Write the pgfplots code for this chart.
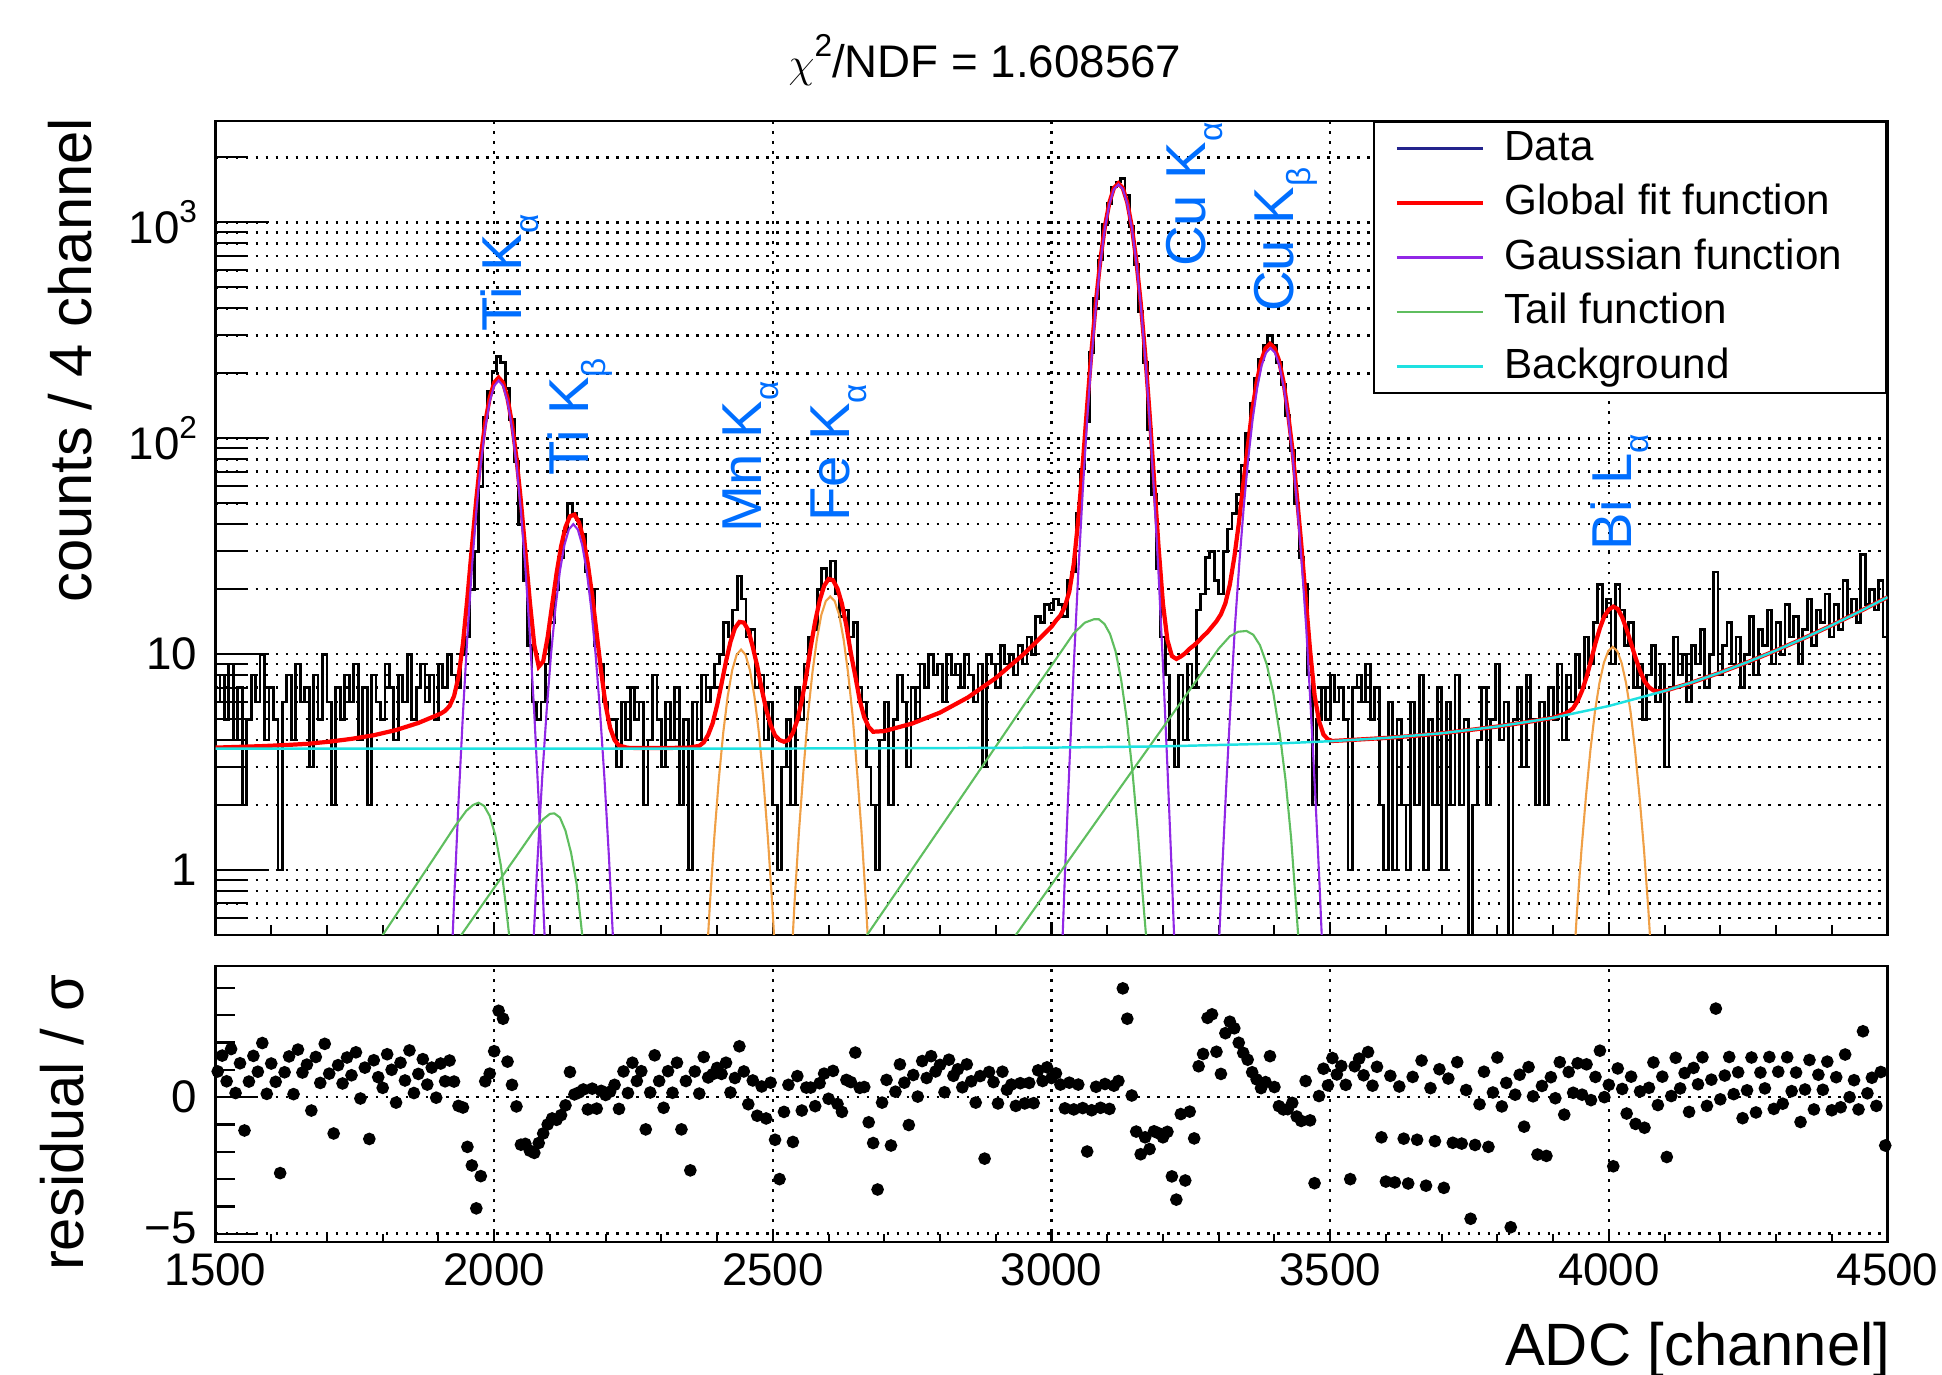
\documentclass[border=0pt]{standalone}
\usepackage{fontspec}
\setmainfont{Liberation Sans}
\usepackage{pgfplots}
\pgfplotsset{compat=1.18}
\definecolor{fitred}{RGB}{255,0,0}
\definecolor{gpurple}{RGB}{145,40,230}
\definecolor{tgreen}{RGB}{95,190,95}
\definecolor{gorange}{RGB}{240,160,70}
\definecolor{bgcyan}{RGB}{30,225,225}
\definecolor{datablue}{RGB}{35,35,140}
\definecolor{peakblue}{RGB}{0,110,255}
\newcommand\tickfont{\fontsize{13}{15.6}\selectfont}
\newcommand\labfont{\fontsize{17}{20}\selectfont}
\newcommand\legfont{\fontsize{12}{14}\selectfont}
\newcommand\peakfont{\fontsize{16}{19}\selectfont}
\newcommand\sups[1]{\raisebox{0.45em}{\fontsize{9}{9}\selectfont #1}}
\newcommand\subs[1]{\raisebox{-4.8pt}{\fontsize{9.5}{9.5}\selectfont #1}}
\tikzset{mygrid/.style={black, line width=0.75pt, dash pattern=on 0.75pt off 2.1pt}}
\begin{document}
\begin{tikzpicture}
\useasboundingbox (0,0) rectangle (194.2mm,137.5mm);
% ---------- top panel: y ticks and y grid ----------
\begin{axis}[
  at={(21.55mm,44mm)}, anchor=south west, scale only axis,
  width=167.2mm, height=81.4mm,
  xmin=1500, xmax=4500, ymode=log, ymin=0.5, ymax=2950,
  xtick=\empty, ytick={1,10,100,1000},
  yticklabels={1,10,10\sups{2},10\sups{3}},
  minor ytick={0.6,0.7,0.8,0.9,2,3,4,5,6,7,8,9,20,30,40,50,60,70,80,90,200,300,400,500,600,700,800,900,2000},
  ytick pos=left, major tick length=5.3mm, minor tick length=3mm,
  ymajorgrids, yminorgrids, major grid style={mygrid}, minor grid style={mygrid},
  every tick/.style={black, line width=0.6pt},
  axis line style={line width=0.6pt},
  yticklabel style={font=\tickfont, xshift=-0.6mm},
]
\end{axis}
% ---------- top panel: data and fit ----------
\begin{axis}[
  at={(21.55mm,44mm)}, anchor=south west, scale only axis,
  width=167.2mm, height=81.4mm,
  xmin=1500, xmax=4500, ymode=log, ymin=0.5, ymax=2950,
  ytick=\empty, xtick={1500,2000,...,4500}, minor x tick num=4, xticklabels=\empty,
  tick pos=left, major tick length=1.2mm, minor tick length=1mm,
  xmajorgrids, major grid style={mygrid},
  every tick/.style={black, line width=0.6pt},
  axis line style={line width=0.6pt},
  legend style={at={(1,1)}, anchor=north east, draw=black, line width=0.6pt, fill=white,
    inner xsep=2.1mm, inner ysep=0.6mm, row sep=1.35mm, font=\legfont,
    cells={anchor=west}, nodes={inner sep=0pt, text height=3.2mm, text depth=0.9mm},
    /tikz/every odd column/.append style={column sep=1.95mm}},
  legend image code/.code={\draw[#1] (0mm,0mm) -- (8.6mm,0mm);},
]
\addplot[forget plot, const plot mark left, black, line width=0.8pt] coordinates {
(1500,6)(1508,8)(1516,5)(1524,9)(1532,4)(1540,7)(1548,2)(1556,5)(1564,8)(1572,6)
(1580,10)(1588,4)(1596,7)(1604,5)(1612,1)(1620,6)(1628,8)(1636,4)(1644,9)(1652,6)
(1660,7)(1668,3)(1676,8)(1684,5)(1692,10)(1700,6)(1708,2)(1716,7)(1724,5)(1732,8)
(1740,6)(1748,9)(1756,4)(1764,7)(1772,2)(1780,8)(1788,6)(1796,5)(1804,9)(1812,7)
(1820,4)(1828,8)(1836,6)(1844,10)(1852,5)(1860,7)(1868,9)(1876,6)(1884,8)(1892,5)
(1900,9)(1908,7)(1916,10)(1924,8)(1932,7)(1940,10)(1948,12)(1956,20)(1964,30)(1972,60)
(1980,125)(1988,165)(1996,205)(2004,240)(2012,224)(2020,170)(2028,122)(2036,78)(2044,40)(2052,22)
(2060,11)(2068,6)(2076,5)(2084,6)(2092,9)(2100,14)(2108,20)(2116,28)(2124,37)(2132,50)
(2140,45)(2148,42)(2156,36)(2164,24)(2172,20)(2180,11)(2188,9)(2196,6)(2204,5)(2212,5)
(2220,3)(2228,6)(2236,4)(2244,7)(2252,5)(2260,6)(2268,2)(2276,4)(2284,8)(2292,5)
(2300,3)(2308,6)(2316,4)(2324,7)(2332,2)(2340,5)(2348,1)(2356,6)(2364,4)(2372,8)
(2380,6)(2388,7)(2396,9)(2404,10)(2412,14)(2420,12)(2428,16)(2436,23)(2444,18)(2452,12)
(2460,13)(2468,7)(2476,8)(2484,4)(2492,6)(2500,2)(2508,1)(2516,3)(2524,5)(2532,2)
(2540,7)(2548,5)(2556,9)(2564,12)(2572,13)(2580,20)(2588,25)(2596,22)(2604,27)(2612,19)
(2620,15)(2628,16)(2636,12)(2644,14)(2652,7)(2660,6)(2668,3)(2676,2)(2684,1)(2692,4)
(2700,6)(2708,2)(2716,5)(2724,8)(2732,6)(2740,3)(2748,7)(2756,5)(2764,9)(2772,7)
(2780,10)(2788,8)(2796,9)(2804,6)(2812,10)(2820,8)(2828,9)(2836,7)(2844,10)(2852,8)
(2860,6)(2868,9)(2876,3)(2884,10)(2892,9)(2900,7)(2908,11)(2916,9)(2924,10)(2932,8)
(2940,11)(2948,9)(2956,12)(2964,10)(2972,15)(2980,14)(2988,17)(2996,16)(3004,18)(3012,17)
(3020,15)(3028,22)(3036,24)(3044,45)(3052,72)(3060,120)(3068,250)(3076,445)(3084,670)(3092,980)
(3100,1225)(3108,1460)(3116,1540)(3124,1600)(3132,1340)(3140,960)(3148,640)(3156,385)(3164,225)(3172,110)
(3180,55)(3188,25)(3196,12)(3204,8)(3212,4)(3220,3)(3228,8)(3236,4)(3244,9)(3252,7)
(3260,16)(3268,19)(3276,28)(3284,30)(3292,22)(3300,19)(3308,30)(3316,38)(3324,45)(3332,55)
(3340,75)(3348,105)(3356,145)(3364,190)(3372,232)(3380,270)(3388,300)(3396,268)(3404,225)(3412,178)
(3420,128)(3428,88)(3436,50)(3444,28)(3452,21)(3460,8)(3468,2)(3476,5)(3484,7)(3492,5)
(3500,8)(3508,6)(3516,7)(3524,5)(3532,1)(3540,7)(3548,8)(3556,6)(3564,9)(3572,5)
(3580,7)(3588,2)(3596,1)(3604,6)(3612,1)(3620,5)(3628,2)(3636,1)(3644,6)(3652,2)
(3660,8)(3668,1)(3676,5)(3684,2)(3692,7)(3700,1)(3708,6)(3716,2)(3724,8)(3732,2)
(3740,5)(3748,0.3)(3756,2)(3764,4)(3772,7)(3780,2)(3788,5)(3796,9)(3804,4)(3812,6)
(3820,0.3)(3828,5)(3836,7)(3844,3)(3852,8)(3860,5)(3868,2)(3876,6)(3884,2)(3892,7)
(3900,5)(3908,9)(3916,4)(3924,8)(3932,6)(3940,10)(3948,7)(3956,12)(3964,9)(3972,14)
(3980,21)(3988,15)(3996,18)(4004,9)(4012,21)(4020,16)(4028,11)(4036,14)(4044,7)(4052,9)
(4060,5)(4068,8)(4076,11)(4084,6)(4092,9)(4100,3)(4108,7)(4116,12)(4124,8)(4132,10)
(4140,6)(4148,11)(4156,9)(4164,13)(4172,7)(4180,10)(4188,24)(4196,8)(4204,11)(4212,14)
(4220,9)(4228,12)(4236,7)(4244,10)(4252,15)(4260,8)(4268,13)(4276,11)(4284,16)(4292,9)
(4300,14)(4308,10)(4316,17)(4324,12)(4332,15)(4340,9)(4348,13)(4356,18)(4364,11)(4372,16)
(4380,14)(4388,19)(4396,12)(4404,17)(4412,13)(4420,22)(4428,15)(4436,18)(4444,14)(4452,29)
(4460,17)(4468,20)(4476,16)(4484,22)(4492,12)(4500,12)
};
% global fit
\addplot[forget plot, fitred, line width=1.2pt] coordinates {
(1500,3.69)(1544,3.72)(1584,3.75)(1624,3.79)(1664,3.84)(1704,3.93)(1744,4.05)(1784,4.21)(1824,4.45)(1864,4.80)
(1904,5.3)(1912,5.46)(1920,5.75)(1928,6.39)(1936,7.85)(1944,11.2)(1952,18.3)(1960,31.2)(1968,52.3)(1976,82.4)
(1984,118.5)(1992,154)(2000,181)(2008,191)(2016,181)(2024,153)(2032,117)(2040,81)(2048,51)(2056,30)
(2064,17.5)(2072,11.0)(2080,8.75)(2088,9.26)(2096,12.0)(2104,16.9)(2112,23.7)(2120,31.5)(2128,38.8)(2136,43.5)
(2144,44.3)(2152,40.9)(2160,34.3)(2168,26.2)(2176,18.6)(2184,12.4)(2192,8.3)(2200,5.8)(2208,4.56)(2216,4.0)
(2224,3.77)(2240,3.68)(2300,3.67)(2350,3.69)(2368,3.76)(2376,3.9)(2384,4.23)(2392,4.78)(2400,5.8)(2408,7.3)
(2416,9.27)(2424,11.4)(2432,13.2)(2440,14.1)(2448,14.0)(2456,12.9)(2464,10.8)(2472,8.8)(2480,6.9)(2488,5.55)
(2496,4.7)(2504,4.2)(2512,4.0)(2520,3.93)(2528,4.0)(2536,4.32)(2544,4.95)(2552,6.1)(2560,7.95)(2568,10.8)
(2576,14.2)(2584,17.7)(2592,20.7)(2600,22.3)(2608,22.0)(2616,20.1)(2624,17.1)(2632,13.5)(2640,10.1)(2648,7.9)
(2656,6.1)(2664,5.1)(2672,4.6)(2680,4.37)(2700,4.4)(2750,4.77)(2800,5.36)(2850,6.3)(2900,7.75)(2950,9.99)
(2980,11.9)(3000,13.4)(3008,14.3)(3016,15.1)(3024,16.6)(3032,19.5)(3040,26.2)(3048,41.9)(3056,75.4)(3064,141.8)
(3072,257.6)(3080,437)(3088,680)(3096,965)(3104,1240)(3112,1444)(3120,1517)(3128,1441)(3136,1235)(3144,958)
(3152,672)(3160,426)(3168,247)(3176,130)(3184,64.3)(3192,31.6)(3200,17.1)(3208,11.6)(3216,9.8)(3224,9.5)
(3232,9.75)(3240,10.1)(3248,10.6)(3256,11.0)(3264,11.5)(3272,12.1)(3280,12.65)(3288,13.4)(3296,14.2)(3304,15.3)
(3312,17.2)(3320,21.0)(3328,28.1)(3336,40.2)(3344,61)(3352,91)(3360,134)(3368,181)(3376,227)(3384,261)
(3392,274)(3400,262)(3408,230)(3416,184)(3424,133)(3432,90)(3440,55)(3448,32.6)(3456,18.3)(3464,10.4)
(3472,6.46)(3480,4.9)(3488,4.24)(3496,4.03)(3504,3.96)(3550,4.02)(3600,4.09)(3650,4.18)(3700,4.3)(3750,4.45)
(3800,4.62)(3850,4.83)(3900,5.07)(3920,5.28)(3928,5.41)(3936,5.62)(3944,6.07)(3952,6.77)(3960,7.83)(3968,9.34)
(3976,11.24)(3984,13.2)(3992,15.0)(4000,16.1)(4008,16.6)(4016,16.2)(4024,14.8)(4032,13.0)(4040,11.2)(4048,9.6)
(4056,8.36)(4064,7.5)(4072,7.03)(4080,6.79)(4088,6.72)(4096,6.74)(4104,6.8)(4150,7.4)(4200,8.22)(4250,9.2)
(4300,10.4)(4350,11.85)(4400,13.6)(4450,15.75)(4500,18.35)
};
% gaussians (purple)
\addplot[forget plot, gpurple, line width=0.6pt] coordinates {
(1912,0.06)(1920,0.22)(1928,0.71)(1936,2.06)(1944,5.3)(1952,12.2)(1960,25)(1968,46)(1976,76)(1984,112)(1992,148)(2000,175)(2008,185)
(2016,175)(2024,148)(2032,112)(2040,76)(2048,46)(2056,25)(2064,12.2)(2072,5.3)(2080,2.06)(2088,0.71)(2096,0.22)(2104,0.06)};
\addplot[forget plot, gpurple, line width=0.6pt] coordinates {
(2054,0.048)(2062,0.154)(2070,0.44)(2078,1.14)(2086,2.63)(2094,5.4)(2102,9.96)(2110,16.4)(2118,24.3)(2126,32)(2134,37.8)(2142,40)
(2150,37.8)(2158,32)(2166,24.3)(2174,16.4)(2182,9.96)(2190,5.4)(2198,2.63)(2206,1.14)(2214,0.44)(2222,0.154)(2230,0.048)};
\addplot[forget plot, gpurple, line width=0.6pt] coordinates {
(3008,0.066)(3016,0.26)(3024,0.94)(3032,3.0)(3040,8.9)(3048,23.7)(3056,56.5)(3064,122.5)(3072,238)(3080,417)(3088,661)(3096,946)(3104,1221)(3112,1426)(3120,1500)
(3128,1426)(3136,1221)(3144,946)(3152,661)(3160,417)(3168,238)(3176,122.5)(3184,56.5)(3192,23.7)(3200,8.9)(3208,3.0)(3216,0.94)(3224,0.26)(3232,0.066)};
\addplot[forget plot, gpurple, line width=0.6pt] coordinates {
(3281,0.025)(3289,0.089)(3297,0.28)(3305,0.85)(3313,2.3)(3321,5.7)(3329,13.3)(3337,26.4)(3345,48.3)(3353,80.5)(3361,123)(3369,171)(3377,217)(3385,249)(3393,262)
(3401,249)(3409,217)(3417,171)(3425,123)(3433,80.5)(3441,48.3)(3449,26.4)(3457,13.3)(3465,5.7)(3473,2.3)(3481,0.85)(3489,0.28)(3497,0.089)(3505,0.025)};
% gaussians (orange)
\addplot[forget plot, gorange, line width=0.6pt] coordinates {
(2363,0.04)(2371,0.117)(2379,0.3)(2387,0.69)(2395,1.42)(2403,2.62)(2411,4.32)(2419,6.37)(2427,8.41)(2435,9.93)(2443,10.5)
(2451,9.93)(2459,8.41)(2467,6.37)(2475,4.32)(2483,2.62)(2491,1.42)(2499,0.69)(2507,0.3)(2515,0.117)(2523,0.04)};
\addplot[forget plot, gorange, line width=0.6pt] coordinates {
(2515,0.04)(2523,0.11)(2531,0.29)(2539,0.71)(2547,1.52)(2555,2.9)(2563,5.23)(2571,8.2)(2579,11.7)(2587,15.2)(2595,17.6)(2603,18.5)
(2611,17.6)(2619,15.2)(2627,11.7)(2635,8.2)(2643,5.23)(2651,2.9)(2659,1.52)(2667,0.71)(2675,0.29)(2683,0.11)(2691,0.04)};
\addplot[forget plot, gorange, line width=0.6pt] coordinates {
(3919,0.05)(3927,0.13)(3935,0.3)(3943,0.65)(3951,1.25)(3959,2.2)(3967,3.6)(3975,5.4)(3983,7.32)(3991,9.1)(3999,10.34)(4007,10.8)
(4015,10.34)(4023,9.1)(4031,7.32)(4039,5.4)(4047,3.6)(4055,2.2)(4063,1.25)(4071,0.65)(4079,0.3)(4087,0.13)(4095,0.05)};
% tails (green)
\addplot[forget plot, tgreen, line width=0.6pt] coordinates {
(1760,0.35)(1800,0.5)(1850,0.78)(1900,1.22)(1930,1.6)(1950,1.88)(1962,2.0)(1972,2.05)(1982,1.98)(1992,1.78)(2002,1.45)(2012,1.05)(2020,0.72)(2028,0.47)(2036,0.28)};
\addplot[forget plot, tgreen, line width=0.6pt] coordinates {
(1900,0.35)(1941,0.5)(1990,0.76)(2040,1.16)(2070,1.5)(2088,1.72)(2100,1.82)(2108,1.83)(2118,1.75)(2128,1.52)(2138,1.2)(2148,0.86)(2158,0.5)(2168,0.3)};
\addplot[forget plot, tgreen, line width=0.6pt] coordinates {
(2620,0.33)(2669,0.5)(2750,1.01)(2850,2.41)(2950,5.78)(3000,8.85)(3040,12.5)(3060,14.0)(3076,14.5)(3085,14.5)(3095,13.8)(3105,12.4)(3115,10.3)(3125,7.6)(3135,5.0)(3145,2.9)(3155,1.5)(3163,0.8)(3171,0.45)(3180,0.22)};
\addplot[forget plot, tgreen, line width=0.6pt] coordinates {
(2880,0.31)(2936,0.5)(3000,0.855)(3100,1.98)(3200,4.57)(3260,7.55)(3300,10.6)(3320,12.1)(3335,12.7)(3350,12.8)(3362,12.3)(3374,11.0)(3386,9.0)(3398,6.6)(3410,4.2)(3420,2.6)(3430,1.4)(3440,0.62)(3448,0.32)};
% background (cyan)
\addplot[forget plot, bgcyan, line width=0.7pt] coordinates {
(1500,3.65)(2000,3.65)(2500,3.652)(2800,3.67)(3000,3.69)(3200,3.74)(3400,3.85)(3500,3.95)(3600,4.09)(3700,4.3)(3800,4.62)(3900,5.07)
(4000,5.75)(4100,6.75)(4150,7.41)(4200,8.22)(4250,9.21)(4300,10.4)(4350,11.85)(4400,13.6)(4450,15.75)(4500,18.35)};
% legend
\addlegendimage{datablue, line width=0.6pt}
\addlegendentry{\makebox[36.1mm][l]{Data}}
\addlegendimage{fitred, line width=1.2pt}
\addlegendentry{\makebox[36.1mm][l]{Global fit function}}
\addlegendimage{gpurple, line width=0.6pt}
\addlegendentry{\makebox[36.1mm][l]{Gaussian function}}
\addlegendimage{tgreen, line width=0.6pt}
\addlegendentry{\makebox[36.1mm][l]{Tail function}}
\addlegendimage{bgcyan, line width=0.7pt}
\addlegendentry{\makebox[36.1mm][l]{Background}}
% peak labels
\begin{scope}[every node/.style={rotate=90, anchor=base west, font=\peakfont, text=peakblue, inner sep=0pt}]
\node at (axis cs:2049,309) {Ti K\subs{α}};
\node at (axis cs:2169,66.9) {Ti K\subs{β}};
\node at (axis cs:2480,36.5) {Mn K\subs{α}};
\node at (axis cs:2637,40.7) {Fe K\subs{α}};
\node at (axis cs:3276,617) {Cu K\subs{α}};
\node at (axis cs:3434,382) {Cu K\subs{β}};
\node at (axis cs:4041,30) {Bi L\subs{α}};
\end{scope}
\end{axis}
% ---------- bottom panel: y ticks and grid ----------
\begin{axis}[
  at={(21.55mm,13.3mm)}, anchor=south west, scale only axis,
  width=167.2mm, height=27.6mm,
  xmin=1500, xmax=4500, ymin=-5.3, ymax=4.8,
  xtick=\empty, ytick={-5,0}, yticklabels={\raisebox{1.2mm}{−5},0},
  minor ytick={-4,-3,-2,-1,1,2,3,4},
  ytick pos=left, major tick length=4mm, minor tick length=1.9mm,
  ymajorgrids, major grid style={mygrid},
  every tick/.style={black, line width=0.6pt},
  axis line style={line width=0.6pt},
  yticklabel style={font=\tickfont, xshift=-0.6mm},
]
\end{axis}
% ---------- bottom panel: residuals ----------
\begin{axis}[
  at={(21.55mm,13.3mm)}, anchor=south west, scale only axis,
  width=167.2mm, height=27.6mm,
  xmin=1500, xmax=4500, ymin=-5.3, ymax=4.8,
  ytick=\empty, xtick={1500,2000,...,4500}, minor x tick num=4,
  xticklabels={1500,2000,2500,3000,3500,4000,4500},
  tick pos=left, major tick length=1mm, minor tick length=0.8mm,
  xmajorgrids, major grid style={mygrid},
  every tick/.style={black, line width=0.6pt},
  axis line style={line width=0.6pt},
  xticklabel style={font=\tickfont, yshift=0.1mm},
]
\addplot[only marks, mark=*, mark size=1.6pt, black] coordinates {
(1504,0.94)(1512,1.52)(1520,0.58)(1528,1.76)(1536,0.15)(1544,1.24)(1552,-1.22)(1560,0.57)(1568,1.51)(1576,0.93)
(1584,1.98)(1592,0.12)(1600,1.23)(1608,0.56)(1616,-2.78)(1624,0.91)(1632,1.49)(1640,0.11)(1648,1.74)(1656,0.9)
(1664,1.19)(1672,-0.49)(1680,1.47)(1688,0.52)(1696,1.95)(1704,0.86)(1712,-1.33)(1720,1.17)(1728,0.5)(1736,1.45)
(1744,0.8)(1752,1.64)(1760,-0.05)(1768,1.08)(1776,-1.53)(1784,1.35)(1792,0.73)(1800,0.34)(1808,1.57)(1816,1.0)
(1824,-0.2)(1832,1.26)(1840,0.61)(1848,1.71)(1856,0.15)(1864,0.85)(1872,1.39)(1880,0.46)(1888,1.08)(1896,-0.02)
(1904,1.23)(1912,0.58)(1920,1.34)(1928,0.57)(1936,-0.32)(1944,-0.38)(1952,-1.82)(1960,-2.5)(1968,-4.07)(1976,-2.89)
(1984,0.58)(1992,0.86)(2000,1.68)(2008,3.16)(2016,2.87)(2024,1.3)(2032,0.45)(2040,-0.34)(2048,-1.74)(2056,-1.71)
(2064,-1.96)(2072,-2.04)(2080,-1.68)(2088,-1.33)(2096,-1.0)(2104,-0.78)(2112,-0.83)(2120,-0.66)(2128,-0.3)(2136,0.92)
(2144,0.1)(2152,0.17)(2160,0.28)(2168,-0.45)(2176,0.31)(2184,-0.42)(2192,0.23)(2200,0.08)(2208,0.2)(2216,0.45)
(2224,-0.43)(2232,0.94)(2240,0.15)(2248,1.26)(2256,0.59)(2264,0.95)(2272,-1.18)(2280,0.17)(2288,1.53)(2296,0.59)
(2304,-0.39)(2312,0.95)(2320,0.16)(2328,1.26)(2336,-1.18)(2344,0.59)(2352,-2.68)(2360,0.94)(2368,0.13)(2376,1.47)
(2384,0.72)(2392,0.84)(2400,1.07)(2408,0.85)(2416,1.26)(2424,0.17)(2432,0.7)(2440,1.86)(2448,0.94)(2456,-0.26)
(2464,0.61)(2472,-0.68)(2480,0.39)(2488,-0.78)(2496,0.53)(2504,-1.56)(2512,-3.0)(2520,-0.54)(2528,0.45)(2536,-1.64)
(2544,0.77)(2552,-0.49)(2560,0.35)(2568,0.35)(2576,-0.33)(2584,0.51)(2592,0.86)(2600,-0.06)(2608,0.96)(2616,-0.25)
(2624,-0.54)(2632,0.63)(2640,0.55)(2648,1.63)(2656,0.34)(2664,0.37)(2672,-0.92)(2680,-1.68)(2688,-3.38)(2696,-0.2)
(2704,0.63)(2712,-1.77)(2720,0.2)(2728,1.2)(2736,0.53)(2744,-1.02)(2752,0.81)(2760,0.02)(2768,1.32)(2776,0.7)
(2784,1.5)(2792,0.94)(2800,1.18)(2808,0.18)(2816,1.37)(2824,0.78)(2832,1.02)(2840,0.36)(2848,1.2)(2856,0.58)
(2864,-0.2)(2872,0.77)(2880,-2.25)(2888,0.92)(2896,0.55)(2904,-0.23)(2912,0.93)(2920,0.27)(2928,0.46)(2936,-0.32)
(2944,0.51)(2952,-0.23)(2960,0.52)(2968,-0.22)(2976,0.98)(2984,0.59)(2992,1.09)(3000,0.7)(3008,0.87)(3016,0.46)
(3024,-0.41)(3032,0.53)(3040,-0.45)(3048,0.46)(3056,-0.4)(3064,-1.99)(3072,-0.48)(3080,0.38)(3088,-0.39)(3096,0.48)
(3104,-0.43)(3112,0.42)(3120,0.59)(3128,3.98)(3136,2.87)(3144,0.06)(3152,-1.26)(3160,-2.09)(3168,-1.47)(3176,-1.9)
(3184,-1.25)(3192,-1.32)(3200,-1.47)(3208,-1.27)(3216,-2.9)(3224,-3.75)(3232,-0.62)(3240,-3.05)(3248,-0.53)(3256,-1.51)
(3264,1.13)(3272,1.58)(3280,2.9)(3288,3.03)(3296,1.66)(3304,0.85)(3312,2.34)(3320,2.76)(3328,2.52)(3336,1.99)
(3344,1.62)(3352,1.37)(3360,0.91)(3368,0.65)(3376,0.33)(3384,0.55)(3392,1.5)(3400,0.37)(3408,-0.33)(3416,-0.45)
(3424,-0.44)(3432,-0.21)(3440,-0.71)(3448,-0.87)(3456,0.59)(3464,-0.85)(3472,-3.15)(3480,0.04)(3488,1.04)(3496,0.43)
(3504,1.43)(3512,0.83)(3520,1.14)(3528,0.45)(3536,-3.0)(3544,1.13)(3552,1.41)(3560,0.8)(3568,1.65)(3576,0.42)
(3584,1.11)(3592,-1.47)(3600,-3.09)(3608,0.78)(3616,-3.12)(3624,0.39)(3632,-1.52)(3640,-3.16)(3648,0.74)(3656,-1.56)
(3664,1.34)(3672,-3.24)(3680,0.33)(3688,-1.61)(3696,1.02)(3704,-3.32)(3712,0.68)(3720,-1.67)(3728,1.28)(3736,-1.7)
(3744,0.26)(3752,-4.45)(3760,-1.75)(3768,-0.26)(3776,0.93)(3784,-1.82)(3792,0.17)(3800,1.45)(3808,-0.34)(3816,0.52)
(3824,-4.76)(3832,0.09)(3840,0.82)(3848,-1.08)(3856,1.1)(3864,0.03)(3872,-2.1)(3880,0.41)(3888,-2.15)(3896,0.73)
(3904,-0.04)(3912,1.28)(3920,-0.64)(3928,0.92)(3936,0.16)(3944,1.24)(3952,0.09)(3960,1.2)(3968,-0.11)(3976,0.74)
(3984,1.7)(3992,0.0)(4000,0.45)(4008,-2.53)(4016,1.05)(4024,0.3)(4032,-0.6)(4040,0.75)(4048,-0.98)(4056,0.21)
(4064,-1.12)(4072,0.34)(4080,1.27)(4088,-0.29)(4096,0.75)(4104,-2.19)(4112,0.04)(4120,1.44)(4128,0.32)(4136,0.88)
(4144,-0.54)(4152,1.07)(4160,0.47)(4168,1.46)(4176,-0.32)(4184,0.64)(4192,3.24)(4200,-0.08)(4208,0.79)(4216,1.47)
(4224,0.11)(4232,0.91)(4240,-0.77)(4248,0.25)(4256,1.45)(4264,-0.56)(4272,0.9)(4280,0.32)(4288,1.47)(4296,-0.43)
(4304,0.93)(4312,-0.24)(4320,1.46)(4328,0.22)(4336,0.9)(4344,-0.91)(4352,0.28)(4360,1.36)(4368,-0.45)(4376,0.82)
(4384,0.27)(4392,1.3)(4400,-0.48)(4408,0.73)(4416,-0.37)(4424,1.56)(4432,0.0)(4440,0.62)(4448,-0.45)(4456,2.41)
(4464,0.14)(4472,0.71)(4480,-0.32)(4488,0.92)(4496,-1.77)
};
\end{axis}
% ---------- titles and axis labels ----------
\node[font=\fontsize{13}{15.6}\selectfont, anchor=center] at (98.5mm,131.5mm) {$\chi$\sups{2}/NDF = 1.608567};
\node[font=\labfont, rotate=90, anchor=center] at (7.06mm,101.46mm) {counts / 4 channel};
\node[font=\labfont, rotate=90, anchor=center] at (6.2mm,25.2mm) {residual / σ};
\node[font=\labfont, anchor=base east, inner sep=0pt] at (189.1mm,0.9mm) {ADC [channel]};
\end{tikzpicture}
\end{document}
